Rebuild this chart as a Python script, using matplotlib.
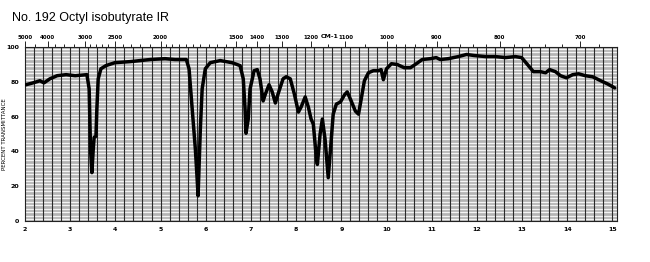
import numpy as np
import matplotlib
matplotlib.use("Agg")
import matplotlib.pyplot as plt

# spectrum trace: wavelength (microns) vs percent transmittance
wavelength = [2.02, 2.18, 2.33, 2.42, 2.55, 2.71, 2.91, 3.11, 3.37, 3.42, 3.45, 3.48,
              3.51, 3.53, 3.57, 3.59, 3.62, 3.68, 3.79, 3.99, 4.33, 4.77, 5.10, 5.32,
              5.57, 5.63, 5.70, 5.77, 5.81, 5.83, 5.85, 5.88, 5.92, 5.99, 6.10, 6.32,
              6.58, 6.76, 6.83, 6.87, 6.89, 6.94, 6.98, 7.07, 7.14, 7.20, 7.27, 7.32,
              7.40, 7.47, 7.54, 7.60, 7.71, 7.78, 7.87, 7.96, 8.05, 8.11, 8.20, 8.27,
              8.33, 8.38, 8.45, 8.47, 8.53, 8.58, 8.64, 8.71, 8.76, 8.82, 8.89, 8.98,
              9.07, 9.13, 9.20, 9.31, 9.38, 9.44, 9.51, 9.60, 9.71, 9.82, 9.88, 9.93,
              10.00, 10.11, 10.24, 10.39, 10.53, 10.66, 10.79, 10.97, 11.10, 11.19,
              11.37, 11.59, 11.77, 11.94, 12.19, 12.41, 12.63, 12.85, 12.99, 13.12,
              13.25, 13.41, 13.52, 13.61, 13.74, 13.85, 13.98, 14.12, 14.25, 14.40,
              14.56, 14.74, 14.89, 15.05]
transmittance = [78.3, 79.4, 80.6, 79.4, 81.7, 83.5, 84.1, 83.5, 84.1, 75.9, 41.2, 27.8,
                 41.2, 48.1, 48.7, 64.3, 81.7, 87.5, 89.3, 91.0, 91.6, 92.8, 93.3, 92.8,
                 92.8, 87.5, 64.3, 41.2, 23.8, 14.5, 29.6, 52.8, 75.9, 87.5, 91.0, 92.2,
                 91.0, 89.3, 81.7, 64.3, 50.4, 58.6, 75.9, 86.4, 87.0, 81.7, 69.0, 73.0,
                 78.3, 74.2, 67.8, 73.0, 81.7, 82.9, 81.7, 73.0, 62.6, 65.5, 71.3, 65.5,
                 58.6, 55.7, 35.4, 32.5, 49.9, 58.6, 47.0, 24.9, 41.2, 61.4, 67.2, 68.4,
                 72.5, 74.2, 70.1, 63.2, 61.4, 70.1, 80.6, 85.2, 86.4, 86.4, 87.0, 81.2,
                 87.5, 90.4, 89.9, 88.1, 88.1, 90.4, 92.8, 93.3, 93.9, 92.8,
                 93.3, 94.5, 95.7, 95.1, 94.5, 94.5, 93.9, 94.5, 93.9, 89.9,
                 85.8, 85.8, 85.2, 87.0, 85.8, 83.5, 82.3, 84.1, 84.6, 83.5,
                 82.9, 80.6, 78.8, 76.5]

micron_labels = [2, 3, 4, 5, 6, 7, 8, 9, 10, 11, 12, 13, 14, 15]
percent_labels = [0, 20, 40, 60, 80, 100]
wavenumber_labels = [5000, 4000, 3000, 2500, 2000, 1500, 1400, 1300, 1200,
                     1100, 1000, 900, 800, 700]

fig = plt.figure(figsize=(6.5, 2.62), dpi=100)
fig.patch.set_facecolor("white")
ax = fig.add_axes([25 / 650, 41 / 262, 592 / 650, 174 / 262])
ax.set_xlim(2, 15.1)
ax.set_ylim(0, 100)
ax.set_facecolor("#b4b4b4")

# chart paper: light horizontal rules, dark vertical rules every 0.2 micron
for y in np.arange(1, 100, 2):
    ax.axhline(y, color="#f4f4f4", lw=0.9, zorder=1)
for x in np.arange(2.2, 15.05, 0.2):
    ax.axvline(x, color="#2a2a2a", lw=0.8, zorder=2)

ax.plot(wavelength, transmittance, color="black", lw=2.5, zorder=5,
        solid_joinstyle="round", solid_capstyle="round")

for s in ax.spines.values():
    s.set_color("#222222")
    s.set_linewidth(0.8)

ax.set_xticks(micron_labels)
ax.set_xticklabels([str(m) for m in micron_labels], fontsize=4.5, fontweight="bold",
                   family="DejaVu Sans")
ax.set_yticks(percent_labels)
ax.set_yticklabels([str(p) for p in percent_labels], fontsize=4.5, fontweight="bold",
                   family="DejaVu Sans")
ax.tick_params(axis="both", length=0, pad=4)
ax.set_ylabel("PERCENT TRANSMITTANCE", fontsize=4, family="DejaVu Sans")
ax.yaxis.set_label_coords(-18 / 592, 0.5)

# wavenumber scale along the top
top = ax.secondary_xaxis("top", functions=(lambda x: x, lambda x: x))
top.set_xticks([1e4 / w for w in wavenumber_labels])
top.set_xticklabels([str(w) for w in wavenumber_labels], fontsize=4, fontweight="bold",
                    family="DejaVu Sans")
minor = [4500, 3750, 3500, 3250] + list(np.arange(2100, 3000, 100)) + \
    list(np.arange(1000, 2000, 50)) + list(np.arange(660, 1000, 20))
top.set_xticks([1e4 / w for w in minor if 1e4 / w <= 15.1], minor=True)
top.tick_params(axis="x", which="major", length=4, width=0.6, pad=1)
top.tick_params(axis="x", which="minor", length=2.5, width=0.6)
top.spines["top"].set_visible(False)
fig.text(330 / 650, 1 - 37 / 262, "CM-1", fontsize=4.5, fontweight="bold",
         family="DejaVu Sans", ha="center", va="center")

fig.text(12 / 650, 1 - 18 / 262, "No. 192 Octyl isobutyrate IR", fontsize=9,
         family="Liberation Sans", ha="left", va="center")

fig.savefig("out.png", dpi=100)
